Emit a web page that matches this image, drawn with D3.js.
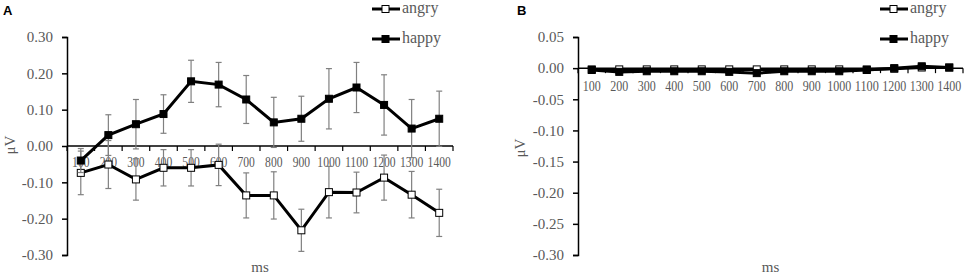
<!DOCTYPE html>
<html>
<head>
<meta charset="utf-8">
<script src="https://cdn.jsdelivr.net/npm/d3@7"></script>
<style>
  body { margin: 0; background: #fff; }
  svg, svg text { font-family: "Liberation Serif", "DejaVu Serif", serif !important; }
  svg text { fill: #595959; }
  svg text.letter { font-family: "Liberation Sans", Arial, sans-serif !important; fill: #000; }
</style>
</head>
<body>
<svg id="chart" width="964" height="277"></svg>
<script>
// categories (ms)
const times = ["100","200","300","400","500","600","700","800","900","1000","1100","1200","1300","1400"];

// panel A values (µV) and error bars
const angryA = [-0.074,-0.051,-0.092,-0.060,-0.060,-0.052,-0.136,-0.136,-0.232,-0.127,-0.128,-0.087,-0.134,-0.184];
const angryErrA = [0.060,0.066,0.057,0.050,0.050,0.057,0.062,0.065,0.058,0.071,0.056,0.062,0.064,0.065];
const happyA = [-0.040,0.030,0.060,0.088,0.178,0.169,0.128,0.065,0.075,0.130,0.161,0.113,0.048,0.075];
const happyErrA = [0.033,0.056,0.068,0.053,0.058,0.061,0.066,0.069,0.062,0.083,0.069,0.083,0.080,0.076];

// panel B values (µV)
const angryB = [-0.002,-0.002,-0.002,-0.002,-0.002,-0.002,-0.002,-0.002,-0.002,-0.002,-0.002,-0.001,0.001,0.001];
const happyB = [-0.003,-0.006,-0.005,-0.005,-0.005,-0.006,-0.008,-0.005,-0.005,-0.005,-0.003,0.000,0.003,0.001];
const errB = [0.002,0.002,0.002,0.002,0.002,0.002,0.002,0.002,0.002,0.002,0.002,0.002,0.002,0.002];

const ticksA = [-0.3,-0.2,-0.1,0,0.1,0.2,0.3];
const ticksB = [-0.3,-0.25,-0.2,-0.15,-0.1,-0.05,0,0.05];

const svg = d3.select("#chart");

function drawPanel(cfg) {
    const g = svg.append("g");
    const x = d3.scaleBand().domain(times).range([cfg.x0, cfg.x1]);
    const y = d3.scaleLinear().domain(cfg.domain).range([255, 37]);
    const cx = d => x(d) + x.bandwidth() / 2;

    // y axis
    const yAxis = g.append("g")
        .attr("transform", `translate(${cfg.x0},0)`)
        .call(d3.axisLeft(y).tickValues(cfg.ticks).tickSize(5).tickPadding(9));
    yAxis.attr("font-family", null);
    yAxis.select(".domain").attr("stroke", "#000").attr("stroke-width", 1.5);
    yAxis.selectAll(".tick line").attr("stroke", "#000").attr("stroke-width", 1.5);
    yAxis.selectAll(".tick text")
        .style("font-size", "15px")
        .attr("fill", "#595959")
        .text(d => d3.format(".2f")(d).replace("−", "-"));

    // x axis at zero
    const y0 = y(0);
    g.append("line")
        .attr("x1", cfg.x0).attr("x2", cfg.x1)
        .attr("y1", y0).attr("y2", y0)
        .attr("stroke", "#000").attr("stroke-width", 1.5);
    g.selectAll(".xtick")
        .data(d3.range(times.length + 1))
        .enter().append("line")
        .attr("x1", i => cfg.x0 + i * x.step())
        .attr("x2", i => cfg.x0 + i * x.step())
        .attr("y1", y0).attr("y2", y0 + 5)
        .attr("stroke", "#000").attr("stroke-width", 1.2);
    g.selectAll(".xlab")
        .data(times)
        .enter().append("text")
        .attr("x", d => cx(d))
        .attr("y", y0 + cfg.labOff)
        .attr("text-anchor", "middle")
        .attr("dominant-baseline", "middle")
        .attr("textLength", d => d.length * cfg.charW)
        .attr("lengthAdjust", "spacingAndGlyphs")
        .style("font-size", "14px")
        .text(d => d);

    // axis titles
    g.append("text")
        .attr("x", (cfg.x0 + cfg.x1) / 2).attr("y", 272)
        .attr("text-anchor", "middle")
        .style("font-size", "15px")
        .text("ms");
    g.append("text")
        .attr("transform", `translate(${cfg.yLabX},${cfg.yLabY}) rotate(-90)`)
        .attr("text-anchor", "middle")
        .style("font-size", "15px")
        .text("μV");

    // panel letter
    g.append("text")
        .attr("class", "letter")
        .attr("x", cfg.letterX).attr("y", 15)
        .style("font-weight", "bold")
        .style("font-size", "13px")
        .text(cfg.letter);

    const line = d3.line().x((d, i) => cx(times[i])).y(d => y(d));

    // series: angry first, happy on top
    cfg.series.forEach(s => {
        // error bars
        const eb = g.append("g").attr("stroke", "#808080").attr("stroke-width", 1.2);
        s.values.forEach((v, i) => {
            const px = cx(times[i]);
            const top = y(v + s.err[i]), bot = y(v - s.err[i]);
            eb.append("line").attr("x1", px).attr("x2", px).attr("y1", top).attr("y2", bot);
            eb.append("line").attr("x1", px - 3).attr("x2", px + 3).attr("y1", top).attr("y2", top);
            eb.append("line").attr("x1", px - 3).attr("x2", px + 3).attr("y1", bot).attr("y2", bot);
        });
        g.append("path")
            .datum(s.values)
            .attr("d", line)
            .attr("fill", "none")
            .attr("stroke", "#000")
            .attr("stroke-width", 3);
        g.selectAll(null)
            .data(s.values)
            .enter().append("rect")
            .attr("x", (d, i) => cx(times[i]) - 3.5)
            .attr("y", d => y(d) - 3.5)
            .attr("width", 7).attr("height", 7)
            .attr("fill", s.fill)
            .attr("stroke", "#000").attr("stroke-width", 1);
    });

    // legend
    cfg.series.forEach((s, k) => {
        const ly = 9 + k * 30;
        const lx = cfg.legX;
        g.append("line")
            .attr("x1", lx).attr("x2", lx + 28)
            .attr("y1", ly).attr("y2", ly)
            .attr("stroke", "#000").attr("stroke-width", 3);
        g.append("rect")
            .attr("x", lx + 10).attr("y", ly - 3.5)
            .attr("width", 7).attr("height", 7)
            .attr("fill", s.fill).attr("stroke", "#000");
        g.append("text")
            .attr("x", lx + 30).attr("y", ly)
            .attr("dominant-baseline", "middle")
            .style("font-size", "16px")
            .text(s.name);
    });
}

drawPanel({
    letter: "A", letterX: 3,
    x0: 67, x1: 453, domain: [-0.3, 0.3], ticks: ticksA,
    labOff: 18, charW: 5.8, yLabX: 15, yLabY: 145, legX: 372,
    series: [
        { name: "angry", values: angryA, err: angryErrA, fill: "#fff" },
        { name: "happy", values: happyA, err: happyErrA, fill: "#000" }
    ]
});

drawPanel({
    letter: "B", letterX: 517,
    x0: 578, x1: 963, domain: [-0.3, 0.05], ticks: ticksB,
    labOff: 20, charW: 6.0, yLabX: 525, yLabY: 148, legX: 880,
    series: [
        { name: "angry", values: angryB, err: errB, fill: "#fff" },
        { name: "happy", values: happyB, err: errB, fill: "#000" }
    ]
});
</script>
</body>
</html>
